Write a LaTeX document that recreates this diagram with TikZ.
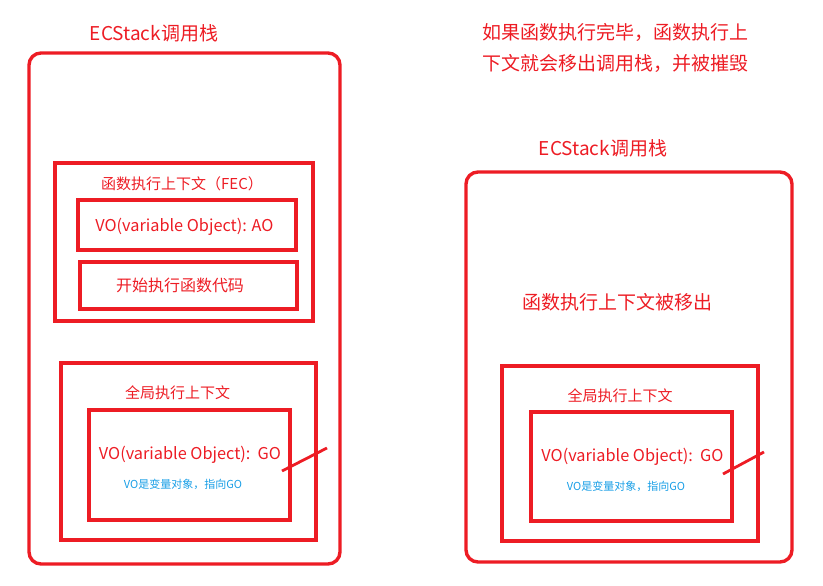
\documentclass[tikz,border=0pt]{standalone}
\usepackage{fontspec}
\setmainfont{Noto Sans CJK SC}
\usetikzlibrary{positioning}
\definecolor{stackred}{RGB}{237,28,36}
\definecolor{noteblue}{RGB}{24,158,230}

\begin{document}
\begin{tikzpicture}[x=1pt,y=-1pt,
  box/.style={draw=stackred,line width=3.4pt,inner sep=0pt},
  txt/.style={text=stackred,inner sep=0pt,font=\fontsize{#1}{#1}\selectfont},
  txt/.default=16.3,
  note/.style={text=noteblue,inner sep=0pt,font=\fontsize{11}{11}\selectfont}]
  \useasboundingbox (0,0) rectangle (823,586);

  % left call stack
  \node[txt=19] (ltitle) at (154,33) {ECStack调用栈};
  \node[box,rounded corners=12pt,minimum width=311pt,minimum height=511pt] (lstack) at (184.5,308.5) {};
  \node[box,minimum width=258pt,minimum height=158pt] (lfec) at (184,242) {};
  \node[txt=15] (lfeclabel) at (182,184) {函数执行上下文（FEC）};
  \node[box,minimum width=218pt,minimum height=50pt] (lao) at (187,225) {};
  \node[txt] (laotext) at (184.5,227) {VO(variable Object): AO};
  \node[box,minimum width=217pt,minimum height=47pt] (lrun) at (188.5,285.5) {};
  \node[txt=16] (lruntext) at (180,285) {开始执行函数代码};
  \node[box,minimum width=255pt,minimum height=177pt] (lglob) at (188.5,451.5) {};
  \node[txt=15] (lgloblabel) at (177.5,393) {全局执行上下文};
  \node[box,minimum width=201pt,minimum height=110pt] (lgo) at (189.5,465) {};
  \node[txt] (lgotext) at (190,455) {VO(variable Object):\ \ GO};
  \node[note] (lnote) at (183,484) {VO是变量对象，指向GO};
  \coordinate (lslasha) at (282,471);
  \coordinate (lslashb) at (327,448);
  \draw[stackred,line width=2.8pt] (lslasha) -- (lslashb);

  % right call stack
  \node[txt=19,align=left,font=\fontsize{19}{31}\selectfont] (rdesc) at (615.5,47.5)
    {如果函数执行完毕，函数执行上\\下文就会移出调用栈，并被摧毁};
  \node[txt=19] (rtitle) at (603,148) {ECStack调用栈};
  \node[box,rounded corners=12pt,minimum width=326pt,minimum height=390pt] (rstack) at (629,367) {};
  \node[txt=19] (rremoved) at (617.5,302) {函数执行上下文被移出};
  \node[box,minimum width=256pt,minimum height=175pt] (rglob) at (630,453.5) {};
  \node[txt=15] (rgloblabel) at (620,396) {全局执行上下文};
  \node[box,minimum width=201pt,minimum height=109pt] (rgo) at (631.5,466.5) {};
  \node[txt] (rgotext) at (632.5,457) {VO(variable Object):\ \ GO};
  \node[note] (rnote) at (626,486) {VO是变量对象，指向GO};
  \coordinate (rslasha) at (723,474);
  \coordinate (rslashb) at (764,452);
  \draw[stackred,line width=2.8pt] (rslasha) -- (rslashb);
\end{tikzpicture}
\end{document}
